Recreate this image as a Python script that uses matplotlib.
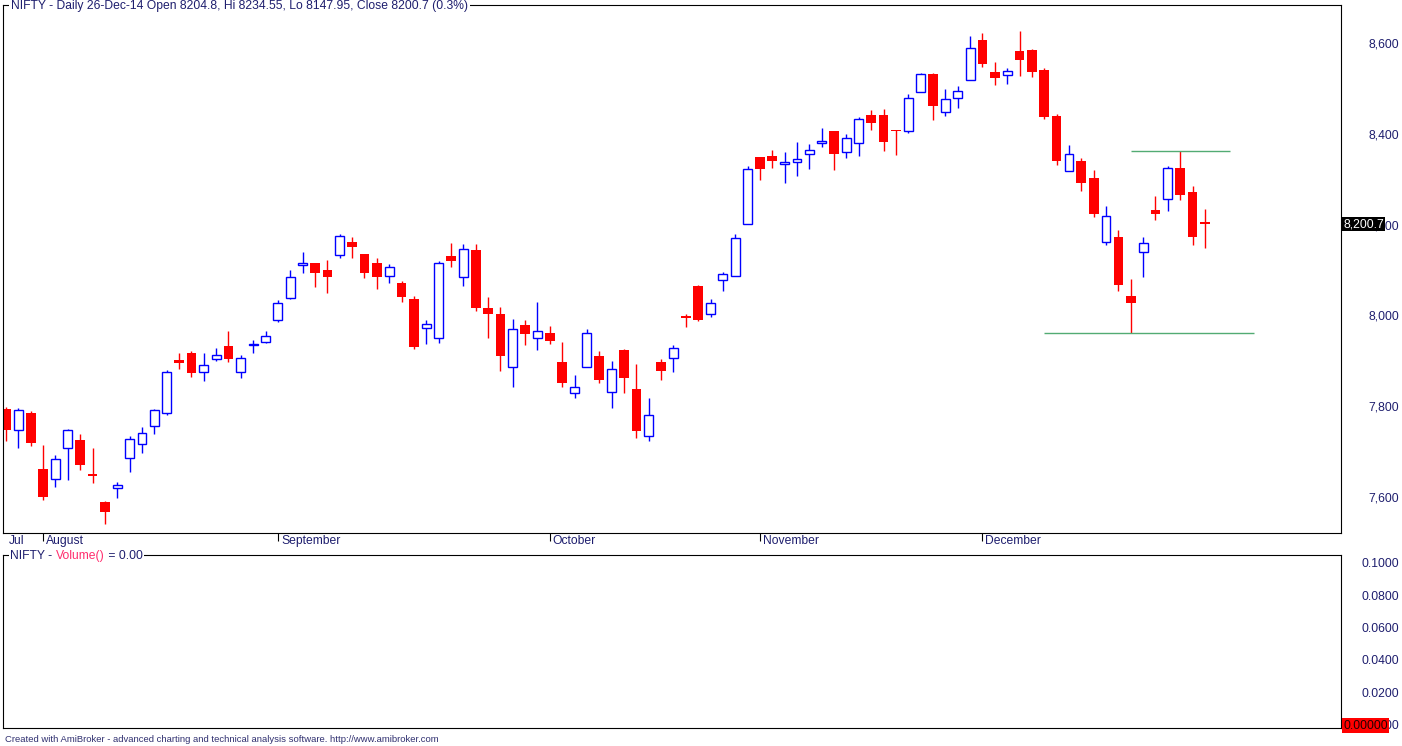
import matplotlib
matplotlib.use('Agg')
import matplotlib.pyplot as plt
import numpy as np
from matplotlib.ticker import FuncFormatter
from matplotlib.transforms import blended_transform_factory

plt.rcParams['font.family'] = ['Liberation Sans', 'DejaVu Sans']

# daily OHLC, NIFTY, end of July to 26-Dec-14
opens = [7794, 7747, 7784, 7661, 7639, 7707, 7726, 7651, 7589, 7619,
         7687, 7716, 7756, 7784, 7902, 7917, 7875, 7903, 7933, 7875,
         7934, 7942, 7989, 8038, 8110, 8115, 8099, 8132, 8161, 8135,
         8115, 8086, 8071, 8036, 7972, 7950, 8130, 8084, 8144, 8016,
         8003, 7886, 7978, 7950, 7961, 7897, 7828, 7886, 7910, 7831,
         7924, 7838, 7734, 7897, 7906, 7999, 8065, 8002, 8077, 8086,
         8201, 8349, 8351, 8333, 8338, 8355, 8380, 8406, 8361, 8379,
         8441, 8441, 8409, 8407, 8491, 8532, 8449, 8478, 8518, 8607,
         8536, 8529, 8582, 8585, 8541, 8439, 8317, 8340, 8303, 8161,
         8173, 8043, 8139, 8232, 8256, 8325, 8272, 8204.8]
highs = [7798, 7795, 7789, 7715, 7692, 7749, 7739, 7709, 7591, 7632,
         7734, 7754, 7794, 7879, 7918, 7922, 7918, 7928, 7966, 7912,
         7946, 7966, 8034, 8100, 8140, 8116, 8122, 8179, 8173, 8136,
         8127, 8113, 8076, 8042, 7990, 8119, 8159, 8157, 8157, 8041,
         8019, 7992, 7990, 8030, 7977, 7941, 7869, 7970, 7922, 7900,
         7926, 7893, 7818, 7904, 7935, 8004, 8067, 8036, 8096, 8179,
         8329, 8349, 8364, 8360, 8382, 8378, 8412, 8406, 8400, 8438,
         8452, 8455, 8409, 8487, 8533, 8533, 8499, 8505, 8615, 8622,
         8558, 8545, 8626, 8587, 8544, 8444, 8375, 8347, 8320, 8241,
         8188, 8080, 8173, 8263, 8329, 8362, 8285, 8234.55]
lows = [7724, 7709, 7713, 7593, 7623, 7637, 7659, 7631, 7540, 7598,
        7656, 7698, 7739, 7781, 7882, 7865, 7856, 7900, 7897, 7863,
        7918, 7939, 7986, 8037, 8094, 8063, 8050, 8127, 8127, 8083,
        8058, 8071, 8030, 7927, 7937, 7940, 8107, 8065, 8010, 7951,
        7878, 7843, 7935, 7924, 7938, 7843, 7817, 7886, 7850, 7797,
        7828, 7730, 7724, 7858, 7876, 7975, 7988, 7997, 8054, 8086,
        8201, 8298, 8325, 8292, 8306, 8323, 8372, 8320, 8347, 8350,
        8408, 8363, 8353, 8401, 8491, 8430, 8440, 8457, 8518, 8548,
        8508, 8510, 8528, 8526, 8433, 8332, 8317, 8274, 8217, 8154,
        8054, 7962, 8085, 8210, 8231, 8254, 8156, 8147.95]
closes = [7748, 7791, 7720, 7601, 7683, 7747, 7671, 7647, 7568, 7626,
          7727, 7740, 7791, 7875, 7896, 7874, 7890, 7912, 7905, 7906,
          7938, 7954, 8027, 8084, 8115, 8094, 8085, 8174, 8151, 8094,
          8085, 8106, 8041, 7931, 7980, 8115, 8120, 8146, 8016, 8002,
          7911, 7969, 7958, 7965, 7944, 7852, 7842, 7961, 7858, 7883,
          7863, 7746, 7780, 7878, 7928, 7995, 7990, 8027, 8091, 8170,
          8322, 8323, 8339, 8337, 8344, 8364, 8384, 8356, 8390, 8432,
          8424, 8383, 8406, 8478, 8531, 8462, 8476, 8494, 8588, 8554,
          8524, 8538, 8563, 8537, 8438, 8341, 8355, 8292, 8224, 8220,
          8068, 8028, 8159, 8224, 8324, 8266, 8173, 8200.7]

month_names = ['August', 'September', 'October', 'November', 'December']
month_starts = [3, 22, 44, 61, 79]

price_ticks = [7600, 7800, 8000, 8200, 8400, 8600]
vol_ticks = [0, 0.02, 0.04, 0.06, 0.08, 0.10]

# user-drawn horizontal lines: (from bar, to bar, level)
hi_line = (91, 99, 8362)
lo_line = (84, 101, 7962)

title = 'NIFTY - Daily 26-Dec-14 Open 8204.8, Hi 8234.55, Lo 8147.95, Close 8200.7 (0.3%)'
last_close = 8200.7

navy = '#1e1e6e'
fs = 8.7
W, H = 1402, 746
step = 12.36  # px per bar


def box(l, t, r, b):
    return [l / W, 1 - b / H, (r - l) / W, (b - t) / H]


fig = plt.figure(figsize=(W / 100, H / 100), dpi=100)
ax = fig.add_axes(box(3, 5, 1341, 533))
axv = fig.add_axes(box(3, 555, 1341, 728))

o = np.array(opens)
h = np.array(highs)
l = np.array(lows)
c = np.array(closes)
x = np.arange(len(o))
up = c > o
dn = ~up

ax.vlines(x, l, h, colors=np.where(up, '#0000ff', '#ff0000'), lw=1.0, zorder=1)
ax.bar(x[dn], (o - c)[dn], bottom=c[dn], width=0.78, color='#ff0000', lw=0, zorder=2)
ax.bar(x[up], (c - o)[up], bottom=o[up], width=0.72, facecolor='white',
       edgecolor='#0000ff', lw=1.0, zorder=2)

line_col = '#52ab73'
ax.hlines(hi_line[2], hi_line[0], hi_line[1], color=line_col, lw=1.0, zorder=3)
ax.hlines(lo_line[2], lo_line[0], lo_line[1], color=line_col, lw=1.0, zorder=3)

xlim = ((3 - 6) / step, (1341 - 6) / step)
ax.set_xlim(*xlim)
ax.set_ylim(7520.7, 8683.7)
axv.set_xlim(*xlim)
axv.set_ylim(-0.00216, 0.10476)

for a in (ax, axv):
    for s in a.spines.values():
        s.set_linewidth(0.8)
        s.set_color('black')
    a.yaxis.tick_right()
    a.tick_params(axis='y', length=0, pad=41.8, labelsize=fs, labelcolor=navy)

ax.set_yticks(price_ticks)
ax.yaxis.set_major_formatter(FuncFormatter(lambda v, p: f'{v:,.0f}'))
plt.setp(ax.yaxis.get_majorticklabels(), ha='right')

axv.set_yticks(vol_ticks)
axv.yaxis.set_major_formatter(FuncFormatter(lambda v, p: f'{v:.4f}'))
plt.setp(axv.yaxis.get_majorticklabels(), ha='right')
axv.set_xticks([])

ax.set_xticks(month_starts)
ax.tick_params(axis='x', direction='out', length=5.8, width=0.8, color='black',
               labelbottom=False)
tr = blended_transform_factory(ax.transData, ax.transAxes)
ax.text(3 / step, -0.0155, 'Jul', transform=tr, ha='left', va='center',
        fontsize=fs, color=navy)
for m, name in zip(month_starts, month_names):
    ax.text(m + 3 / step, -0.0155, name, transform=tr, ha='left', va='center',
            fontsize=fs, color=navy)

# headers over the top borders
fig.text(11 / W, 1 - 6.5 / H, title, ha='left', va='center', fontsize=fs, color=navy,
         bbox=dict(fc='white', ec='none', pad=1.2))
t1 = fig.text(10.5 / W, 1 - 556 / H, 'NIFTY - ', ha='left', va='center', fontsize=fs,
              color=navy, bbox=dict(fc='white', ec='none', pad=1.2))
t2 = fig.text(0, 0, 'Volume()', fontsize=fs, color='#ff2d6e', ha='left', va='bottom',
              bbox=dict(fc='white', ec='none', pad=1.2))
t3 = fig.text(0, 0, ' = 0.00', fontsize=fs, color=navy, ha='left', va='bottom',
              bbox=dict(fc='white', ec='none', pad=1.2))
fig.canvas.draw()
r = fig.canvas.get_renderer()
bb = t1.get_window_extent(r)
t2.set_position((bb.x1 / W, bb.y0 / H))
fig.canvas.draw()
bb = t2.get_window_extent(r)
t3.set_position((bb.x1 / W, bb.y0 / H))

# value flags on the right axis
yfig = ax.transData.transform((0, last_close))[1] / H
fig.text(1343 / W, yfig, f'{last_close:,.1f}', ha='left', va='center', fontsize=fs,
         color='white', bbox=dict(boxstyle='square,pad=0.1', fc='black', ec='none'))
yfig0 = axv.transData.transform((0, 0))[1] / H
fig.text(1343 / W, yfig0 - 1 / H, '0.00000', ha='left', va='center', fontsize=fs,
         color='#220000', bbox=dict(boxstyle='square,pad=0.1', fc='#ff0000', ec='none'))

fig.text(5 / W, 1 - 740 / H,
         'Created with AmiBroker - advanced charting and technical analysis software. '
         'http://www.amibroker.com', ha='left', va='center', fontsize=6.8, color='#303070')

fig.savefig('out.png', dpi=100)
